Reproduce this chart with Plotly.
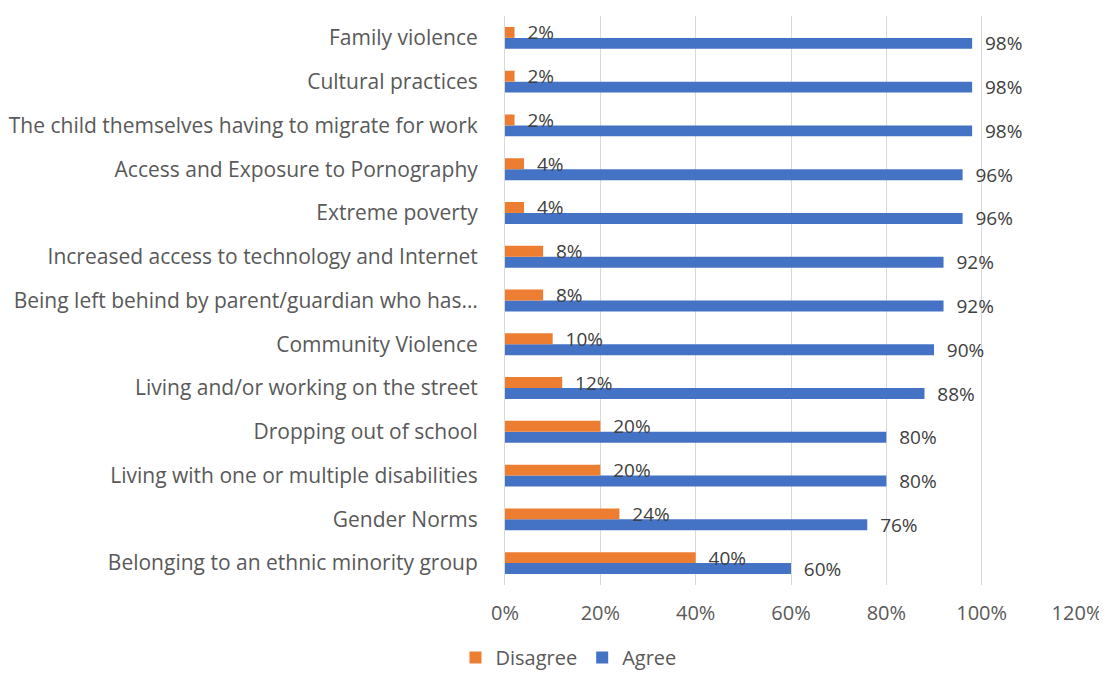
import plotly.graph_objects as go

categories = [
    "Family violence",
    "Cultural practices",
    "The child themselves having to migrate for work",
    "Access and Exposure to Pornography",
    "Extreme poverty",
    "Increased access to technology and Internet",
    "Being left behind by parent/guardian who has…",
    "Community Violence",
    "Living and/or working on the street",
    "Dropping out of school",
    "Living with one or multiple disabilities",
    "Gender Norms",
    "Belonging to an ethnic minority group",
]
disagree = [2, 2, 2, 4, 4, 8, 8, 10, 12, 20, 20, 24, 40]
agree = [98, 98, 98, 96, 96, 92, 92, 90, 88, 80, 80, 76, 60]
x_ticks = [0, 20, 40, 60, 80, 100, 120]

FONT = "Open Sans, Liberation Sans, sans-serif"
PAD = "\u00a0\u00a0"

fig = go.Figure()
fig.add_trace(go.Bar(
    y=categories, x=agree, name="Agree", orientation="h",
    marker=dict(color="#4472C4", line=dict(width=0)),
    text=[f"{PAD}{v}%" for v in agree], textposition="outside",
    textfont=dict(size=19, color="#404040", family=FONT),
    cliponaxis=False,
))
fig.add_trace(go.Bar(
    y=categories, x=disagree, name="Disagree", orientation="h",
    marker=dict(color="#ED7D31", line=dict(width=0)),
    text=[f"{PAD}{v}%" for v in disagree], textposition="outside",
    textfont=dict(size=19, color="#404040", family=FONT),
    cliponaxis=False,
))

fig.update_layout(
    width=1099, height=669,
    margin=dict(l=497, r=30, t=8, b=92, autoexpand=False),
    paper_bgcolor="white", plot_bgcolor="white",
    barmode="group", bargap=0.5, bargroupgap=0,
    uniformtext=dict(minsize=19, mode="show"),
    font=dict(family=FONT, size=19, color="#595959"),
    showlegend=True,
    legend=dict(
        orientation="h", traceorder="reversed",
        xref="container", x=0.51, xanchor="center",
        yref="container", y=-0.036, yanchor="bottom",
        font=dict(size=20, color="#595959"),
        itemwidth=30,
    ),
    xaxis=dict(
        range=[0, 120], tickvals=x_ticks,
        ticktext=[f"{v}%" for v in x_ticks],
        showgrid=True, gridcolor="#D9D9D9", gridwidth=1,
        zeroline=False, showline=False, ticks="",
        ticklabelstandoff=14,
        tickfont=dict(size=20, color="#595959"),
    ),
    yaxis=dict(
        categoryorder="array", categoryarray=categories[::-1],
        showgrid=False, showline=True, linecolor="#D9D9D9", linewidth=1,
        ticks="", ticklabelstandoff=22,
        tickfont=dict(size=21, color="#595959"),
    ),
)

fig.write_html("out.html")
